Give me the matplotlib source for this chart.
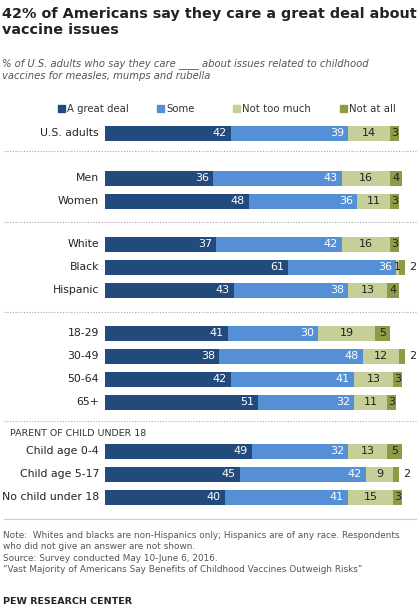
import matplotlib.pyplot as plt

groups = ["U.S. adults", "Men", "Women", "White", "Black", "Hispanic",
          "18-29", "30-49", "50-64", "65+",
          "Child age 0-4", "Child age 5-17", "No child under 18"]
great = [42, 36, 48, 37, 61, 43, 41, 38, 42, 51, 49, 45, 40]
some = [39, 43, 36, 42, 36, 38, 30, 48, 41, 32, 32, 42, 41]
not_much = [14, 16, 11, 16, 1, 13, 19, 12, 13, 11, 13, 9, 15]
not_all = [3, 4, 3, 3, 2, 4, 5, 2, 3, 3, 5, 2, 3]
series_names = ["A great deal", "Some", "Not too much", "Not at all"]

colors = ["#234a7c", "#5590d6", "#c6cf98", "#8e9a45"]
ypos = [133, 178, 201, 244, 267, 290, 333, 356, 379, 402, 451, 474, 497]
seps = [151, 222, 312, 421]

fig = plt.figure(figsize=(4.2, 6.14), dpi=100)
ax = fig.add_axes([0, 0, 1, 1])
ax.set_xlim(-35, 105)
ax.set_ylim(614, 0)
ax.axis("off")
px = 140 / 420  # one pixel in x data units

ax.text(2 * px - 35, 7, "42% of Americans say they care a great deal about\nvaccine issues",
        fontsize=10.4, fontweight="bold", va="top", color="#222222", linespacing=1.2)
ax.text(2 * px - 35, 58, "% of U.S. adults who say they care ____ about issues related to childhood\nvaccines for measles, mumps and rubella",
        fontsize=7.2, style="italic", va="top", color="#555555", linespacing=1.3)

# legend
leg_x = [58, 157, 233, 340]
for c, name, lx in zip(colors, series_names, leg_x):
    x = (lx - 105) * px
    ax.add_patch(plt.Rectangle((x, 105), 7 * px, 7, color=c))
    ax.text(x + 9 * px, 108.5, name, fontsize=7.3, va="center", color="#333333")

data = [great, some, not_much, not_all]
for i, y in enumerate(ypos):
    left = 0
    for k, vals in enumerate(data):
        v = vals[i]
        ax.barh(y, v, left=left, height=15, color=colors[k])
        if k < 2:
            ax.text(left + v - 4 * px, y, str(v), ha="right", va="center",
                    fontsize=8, color="white")
        elif v >= 3 or k == 2:
            ax.text(left + v / 2, y, str(v), ha="center", va="center",
                    fontsize=8, color="#222222")
        left += v
    if not_all[i] < 3:
        ax.text(left + 1.5, y, str(not_all[i]), ha="left", va="center", fontsize=8, color="#222222")
    ax.text(-2, y, groups[i], ha="right", va="center", fontsize=7.8, color="#222222")

for sy in seps:
    ax.plot([-35 + 4 * px, 105 - 4 * px], [sy, sy], color="#aaaaaa", lw=0.8, ls=(0, (1, 1.5)))
ax.text(-35 + 10 * px, 433, "PARENT OF CHILD UNDER 18", fontsize=6.8, va="center", color="#333333")
ax.plot([-35 + 4 * px, 105 - 4 * px], [519, 519], color="#cccccc", lw=0.8)

ax.text(-35 + 3 * px, 531, "Note:  Whites and blacks are non-Hispanics only; Hispanics are of any race. Respondents\nwho did not give an answer are not shown.\nSource: Survey conducted May 10-June 6, 2016.\n\u201cVast Majority of Americans Say Benefits of Childhood Vaccines Outweigh Risks\u201d",
        fontsize=6.4, va="top", color="#555555", linespacing=1.35)
ax.text(-35 + 3 * px, 597, "PEW RESEARCH CENTER", fontsize=6.8, fontweight="bold", va="top", color="#222222")

fig.savefig("out.png", dpi=100)
